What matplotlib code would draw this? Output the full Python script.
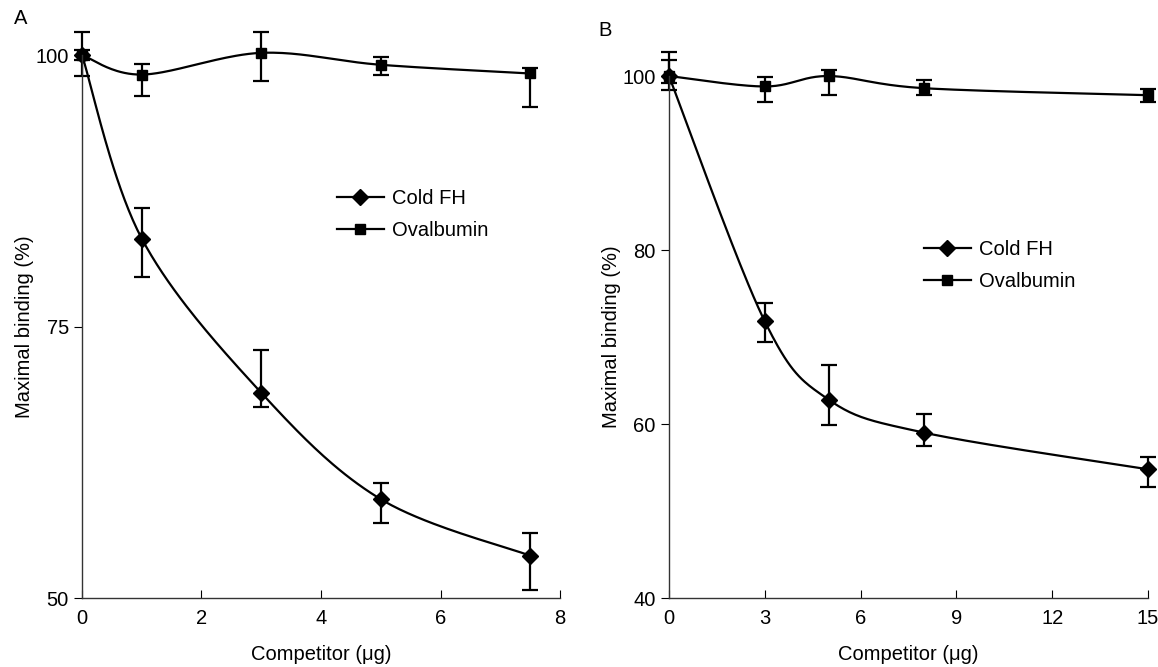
import numpy as np
import matplotlib
matplotlib.use('Agg')
import matplotlib.pyplot as plt

plt.rcParams['font.family'] = ['Liberation Sans', 'DejaVu Sans']

# Panel A data
a_x = [0, 1, 3, 5, 7.5]
a_cold = [100, 83.1, 68.9, 59.1, 53.9]
a_cold_lo = [0.5, 3.5, 1.3, 2.2, 3.2]
a_cold_hi = [0.5, 2.8, 3.9, 1.5, 2.1]
a_oval = [100, 98.2, 100.2, 99.1, 98.3]
a_oval_lo = [1.9, 2.0, 2.6, 0.9, 3.1]
a_oval_hi = [2.1, 1.0, 1.9, 0.7, 0.5]

# Panel B data
b_x = [0, 3, 5, 8, 15]
b_cold = [100, 71.8, 62.8, 59.0, 54.8]
b_cold_lo = [0.8, 2.4, 2.9, 1.5, 2.0]
b_cold_hi = [1.8, 2.1, 4.0, 2.1, 1.4]
b_oval = [100, 98.8, 100, 98.6, 97.8]
b_oval_lo = [1.6, 1.8, 2.2, 0.8, 0.8]
b_oval_hi = [2.8, 1.1, 0.7, 1.0, 0.7]

FS = 14.5


def smooth(x, y, n=40):
    # Excel-like smoothed line (Catmull-Rom style bezier segments)
    x = np.asarray(x, float)
    y = np.asarray(y, float)
    pts = np.column_stack([x, y])
    p = np.vstack([pts[0], pts, pts[-1]])
    out = []
    t = np.linspace(0, 1, n)
    for i in range(1, len(p) - 2):
        p0, p1, p2, p3 = p[i - 1], p[i], p[i + 1], p[i + 2]
        c1 = p1 + (p2 - p0) / 6.0
        c2 = p2 - (p3 - p1) / 6.0
        seg = (((1 - t) ** 3)[:, None] * p1 + (3 * (1 - t) ** 2 * t)[:, None] * c1
               + (3 * (1 - t) * t ** 2)[:, None] * c2 + (t ** 3)[:, None] * p2)
        out.append(seg)
    out = np.vstack(out)
    return out[:, 0], out[:, 1]


def draw(ax, x, cold, clo, chi, oval, olo, ohi):
    for yv, lo, hi, mk, ms, lab in [(oval, olo, ohi, 's', 7.5, 'Ovalbumin'),
                                    (cold, clo, chi, 'D', 8, 'Cold FH')]:
        sx, sy = smooth(x, yv)
        ax.plot(sx, sy, color='black', lw=1.6, clip_on=False)
        ax.errorbar(x, yv, yerr=[lo, hi], fmt='none', ecolor='black',
                    elinewidth=1.6, capsize=5.5, capthick=1.6, clip_on=False)
        ax.plot(x, yv, marker=mk, ms=ms, color='black', ls='none', clip_on=False)
        ax.plot([], [], color='black', lw=1.6, marker=mk, ms=ms, label=lab)
    for s in ['top', 'right']:
        ax.spines[s].set_visible(False)
    for s in ['left', 'bottom']:
        ax.spines[s].set_color('#333333')
        ax.spines[s].set_linewidth(1.0)
    ax.tick_params(axis='x', direction='in', length=6, labelsize=FS, pad=8)
    ax.tick_params(axis='y', direction='out', length=6, labelsize=FS)
    ax.set_xlabel('Competitor (μg)', fontsize=FS, labelpad=12)
    ax.set_ylabel('Maximal binding (%)', fontsize=FS, labelpad=1)


fig = plt.figure(figsize=(11.58, 6.67), dpi=100)
axA = fig.add_axes([0.0708, 0.1034, 0.4128, 0.8141])
axB = fig.add_axes([0.5777, 0.1034, 0.4137, 0.7826])

draw(axA, a_x, a_cold, a_cold_lo, a_cold_hi, a_oval, a_oval_lo, a_oval_hi)
axA.set_xlim(0, 8)
axA.set_ylim(50, 100)
axA.set_xticks([0, 2, 4, 6, 8])
axA.set_yticks([50, 75, 100])
handles, labels = axA.get_legend_handles_labels()
axA.legend(handles[::-1], labels[::-1], frameon=False, fontsize=FS,
           loc='upper left', bbox_to_anchor=(0.496, 0.786), handlelength=2.3,
           handletextpad=0.4, labelspacing=0.65)

draw(axB, b_x, b_cold, b_cold_lo, b_cold_hi, b_oval, b_oval_lo, b_oval_hi)
axB.set_xlim(0, 15)
axB.set_ylim(40, 100)
axB.set_xticks([0, 3, 6, 9, 12, 15])
axB.set_yticks([40, 60, 80, 100])
handles, labels = axB.get_legend_handles_labels()
axB.legend(handles[::-1], labels[::-1], frameon=False, fontsize=FS,
           loc='upper left', bbox_to_anchor=(0.495, 0.72), handlelength=2.3,
           handletextpad=0.4, labelspacing=0.65)

fig.text(14 / 1158, 1 - 18 / 667, 'A', fontsize=FS, va='center')
fig.text(598 / 1158, 1 - 30 / 667, 'B', fontsize=FS, va='center')

fig.savefig('out.png', dpi=100)
